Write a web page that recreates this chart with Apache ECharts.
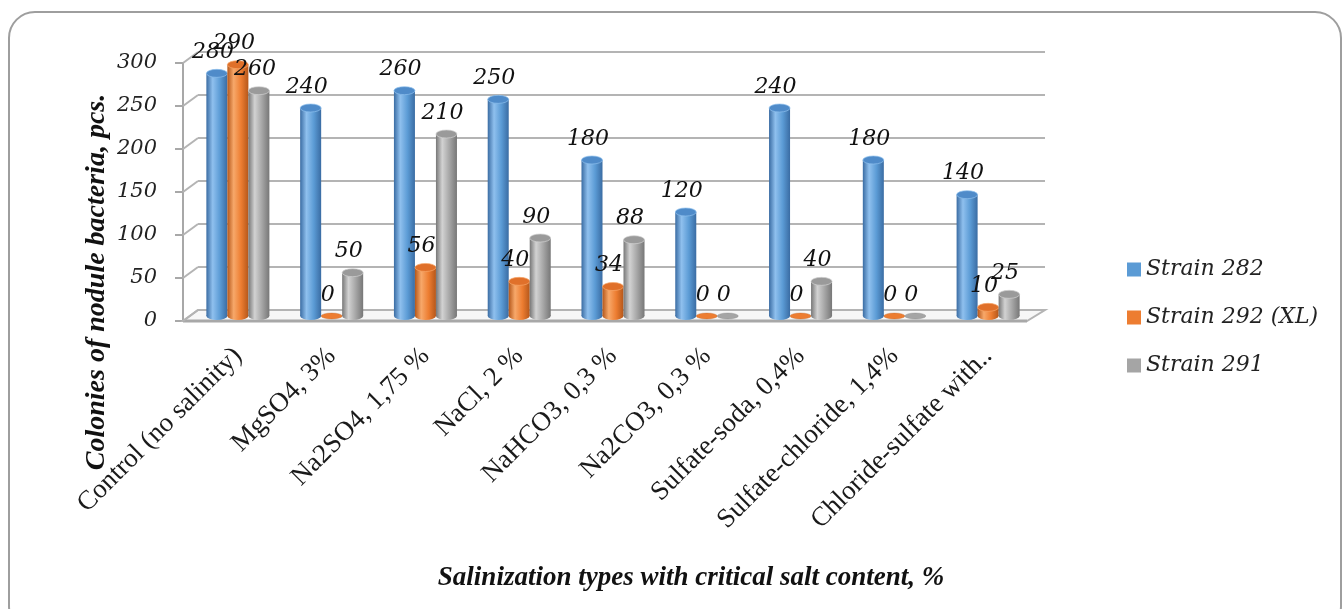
<!DOCTYPE html>
<html>
<head>
<meta charset="utf-8">
<script src="https://cdn.jsdelivr.net/npm/echarts@6/dist/echarts.min.js"></script>
<style>
  html, body { margin: 0; padding: 0; background: #fff; }
  #chart { width: 1344px; height: 609px; }
</style>
</head>
<body>
<div id="chart"></div>
<script>
// Salinization types (x axis)
const categories = [
  'Control (no salinity)',
  'MgSO4, 3%',
  'Na2SO4, 1,75 %',
  'NaCl, 2 %',
  'NaHCO3, 0,3 %',
  'Na2CO3, 0,3 %',
  'Sulfate-soda, 0,4%',
  'Sulfate-chloride, 1,4%',
  'Chloride-sulfate with..'
];

// Colonies of nodule bacteria per strain, pcs.
const strain282 = [280, 240, 260, 250, 180, 120, 240, 180, 140];
const strain292 = [290, 0, 56, 40, 34, 0, 0, 0, 10];
const strain291 = [260, 50, 210, 90, 88, 0, 40, 0, 25];

const seriesNames = ['Strain 282', 'Strain 292 (XL)', 'Strain 291'];

// Value axis ticks
const yMin = 0, yMax = 300, yStep = 50;

const palettes = [
  { base: '#5B9BD5', dark: '#3a6ca3', light: '#8fc0ee', top: '#4f8bc9' },
  { base: '#ED7D31', dark: '#b5571a', light: '#f7a86a', top: '#e0702a' },
  { base: '#A5A5A5', dark: '#777777', light: '#d2d2d2', top: '#9a9a9a' }
];

const labelFont = 'italic 22px "DejaVu Serif"';

function bodyGradient(p) {
  return new echarts.graphic.LinearGradient(0, 0, 1, 0, [
    { offset: 0, color: p.dark },
    { offset: 0.3, color: p.light },
    { offset: 0.65, color: p.base },
    { offset: 1, color: p.dark }
  ]);
}

// Cylinder-shaped bar: body + bottom cap + top cap + value label
function cylinder(seriesIndex) {
  const p = palettes[seriesIndex];
  return function (params, api) {
    const ci = api.value(0);
    const v = api.value(1);
    const base = api.coord([ci, 0]);
    const top = api.coord([ci, v]);
    const band = api.size([1, 0])[0];
    const w = band * 0.224;
    const rx = w / 2;
    const ry = 4;
    const cx = base[0] + (seriesIndex - 1) * w;
    const children = [];
    if (v > 0) {
      children.push({
        type: 'circle', x: cx, y: base[1], scaleY: ry / rx,
        shape: { cx: 0, cy: 0, r: rx },
        style: { fill: bodyGradient(p) }
      });
      children.push({
        type: 'rect',
        shape: { x: cx - rx, y: top[1], width: w, height: base[1] - top[1] },
        style: { fill: bodyGradient(p) }
      });
      children.push({
        type: 'circle', x: cx, y: top[1], scaleY: ry / rx,
        shape: { cx: 0, cy: 0, r: rx },
        style: { fill: p.top, stroke: p.light, lineWidth: 1 }
      });
    } else {
      children.push({
        type: 'circle', x: cx, y: base[1], scaleY: 3 / rx,
        shape: { cx: 0, cy: 0, r: rx },
        style: { fill: p.base, stroke: p.dark, lineWidth: 0.5 }
      });
    }
    children.push({
      type: 'text', x: cx - 4, y: top[1] - 10,
      style: {
        text: String(v), font: labelFont, fill: '#111',
        align: 'center', verticalAlign: 'bottom'
      },
      z2: 10
    });
    return { type: 'group', children: children };
  };
}

const seriesData = [strain282, strain292, strain291];

const chart = echarts.init(document.getElementById('chart'), null, { renderer: 'canvas' });

const option = {
  animation: false,
  backgroundColor: '#fff',
  grid: [
    // back wall
    { left: 198, top: 52, width: 847, height: 258 },
    // front value axis
    { left: 183, top: 63, width: 844, height: 258 },
    // cylinders
    { left: 191, top: 56, width: 844, height: 260 }
  ],
  xAxis: [
    { gridIndex: 0, type: 'value', min: 0, max: 1, show: false },
    { gridIndex: 1, type: 'value', min: 0, max: 1, show: false },
    {
      gridIndex: 2, type: 'category', data: categories,
      axisLine: { show: false }, axisTick: { show: false },
      axisLabel: {
        rotate: 45, margin: 36, interval: 0,
        fontFamily: '"Liberation Serif"', fontSize: 27, color: '#1a1a1a'
      }
    }
  ],
  yAxis: [
    {
      gridIndex: 0, type: 'value', min: yMin, max: yMax, interval: yStep,
      axisLine: { show: false }, axisTick: { show: false }, axisLabel: { show: false },
      splitLine: { show: true, lineStyle: { color: '#b4b4b4', width: 2 } }
    },
    {
      gridIndex: 1, type: 'value', min: yMin, max: yMax, interval: yStep,
      axisLine: { show: true, lineStyle: { color: '#a8a8a8', width: 2 } },
      axisTick: { show: true, length: 8, lineStyle: { color: '#a8a8a8', width: 2 } },
      axisLabel: {
        margin: 26, fontFamily: '"DejaVu Serif"', fontStyle: 'italic',
        fontSize: 21, color: '#222'
      },
      splitLine: { show: false }
    },
    { gridIndex: 2, type: 'value', min: yMin, max: yMax, show: false }
  ],
  legend: {
    orient: 'vertical', left: 1122, top: 253, itemGap: 25,
    itemWidth: 14, itemHeight: 14, icon: 'rect',
    textStyle: {
      fontFamily: '"DejaVu Serif"', fontStyle: 'italic', fontSize: 22,
      color: '#222', lineHeight: 23, padding: [0, 0, 0, 0]
    },
    data: seriesNames
  },
  series: seriesData.map((vals, s) => ({
    type: 'custom',
    name: seriesNames[s],
    xAxisIndex: 2, yAxisIndex: 2,
    itemStyle: { color: palettes[s].base },
    renderItem: cylinder(s),
    encode: { x: 0, y: 1 },
    data: vals.map((v, i) => [i, v]),
    z: 3
  }))
};

chart.setOption(option);

// Frame, floor, wall connectors and axis titles
function decorations() {
  const bx = v => chart.convertToPixel({ xAxisIndex: 0 }, v);
  const by = v => chart.convertToPixel({ yAxisIndex: 0 }, v);
  const fx = v => chart.convertToPixel({ xAxisIndex: 1 }, v);
  const fy = v => chart.convertToPixel({ yAxisIndex: 1 }, v);

  const els = [];
  els.push({
    type: 'rect', id: 'frame', z: 0,
    shape: { x: 9, y: 12, width: 1332, height: 620, r: 26 },
    style: { fill: 'none', stroke: '#9e9e9e', lineWidth: 2 }
  });
  // floor
  els.push({
    type: 'polygon', id: 'floor', z: 1,
    shape: { points: [[fx(0), fy(0)], [fx(1), fy(0)], [bx(1), by(0)], [bx(0), by(0)]] },
    style: { fill: '#f7f7f7', stroke: '#b4b4b4', lineWidth: 2 }
  });
  els.push({
    type: 'line', id: 'floorFront', z: 1,
    shape: { x1: fx(0), y1: fy(0), x2: fx(1), y2: fy(0) },
    style: { stroke: '#a8a8a8', lineWidth: 3 }
  });
  // connectors from front ticks to back wall lines
  for (let v = yMin; v <= yMax; v += yStep) {
    els.push({
      type: 'line', id: 'conn' + v, z: 1,
      shape: { x1: fx(0), y1: fy(v), x2: bx(0), y2: by(v) },
      style: { stroke: '#b4b4b4', lineWidth: 2 }
    });
  }
  els.push({
    type: 'text', id: 'yTitle', x: 97, y: 282, rotation: Math.PI / 2,
    style: {
      text: 'Colonies of nodule bacteria, pcs.',
      font: 'italic bold 28px "Liberation Serif"', fill: '#111',
      align: 'center', verticalAlign: 'middle'
    }
  });
  els.push({
    type: 'text', id: 'xTitle', x: 691, y: 578,
    style: {
      text: 'Salinization types with critical salt content, %',
      font: 'italic bold 27px "Liberation Serif"', fill: '#111',
      align: 'center', verticalAlign: 'middle'
    }
  });
  chart.setOption({ graphic: { elements: els } });
}
decorations();
</script>
</body>
</html>
